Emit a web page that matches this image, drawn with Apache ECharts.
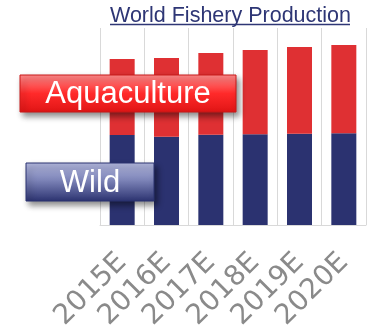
<!DOCTYPE html>
<html><head><meta charset="utf-8">
<script src="https://cdn.jsdelivr.net/npm/echarts@6/dist/echarts.min.js"></script>
<style>html,body{margin:0;padding:0;background:#fff}#c{width:368px;height:330px}</style>
</head><body><div id="c"></div>
<script>
var categories = ['2015E','2016E','2017E','2018E','2019E','2020E'];
var wild = [91.4, 89.6, 91.7, 92.1, 92.7, 93.1];
var aquaculture = [77.1, 79.9, 82.9, 85.6, 88.0, 89.6];
var seriesNames = ['Wild','Aquaculture'];
var titleText = 'World Fishery Production';

var chart = echarts.init(document.getElementById('c'), null, {renderer:'canvas'});
chart.setOption({
  animation:false,
  grid:{left:100,right:2,top:28,bottom:105,containLabel:false,outerBoundsMode:'none'},
  xAxis:{type:'category',data:categories,
    axisLine:{show:true,lineStyle:{color:'#d9d9d9',width:1}},
    axisTick:{show:false},
    splitLine:{show:true,interval:0,lineStyle:{color:'#d9d9d9',width:1}},
    axisLabel:{rotate:45,interval:0,margin:33,fontSize:28,color:'#8a8a8a',fontFamily:'DejaVu Sans'}
  },
  yAxis:{type:'value',min:0,max:200,show:false,splitLine:{show:false}},
  series:[
    {name:seriesNames[0],type:'bar',stack:'t',data:wild,barWidth:25,itemStyle:{color:'#2b3270'}},
    {name:seriesNames[1],type:'bar',stack:'t',data:aquaculture,barWidth:25,itemStyle:{color:'#df3033'}}
  ],
  graphic:[
    {type:'text',z:10,x:110,y:5,style:{text:titleText,fill:'#2e3675',font:'21.5px "Liberation Sans", Arial, sans-serif'}},
    {type:'line',shape:{x1:110,y1:24.5,x2:350,y2:24.5},style:{stroke:'#2e3675',lineWidth:1.5},z:10},
    {type:'rect',shape:{x:20,y:75,width:216,height:37},z:20,
     style:{fill:new echarts.graphic.LinearGradient(0,0,0,1,[{offset:0,color:'#ff8c8c'},{offset:0.5,color:'#ff2a2a'},{offset:1,color:'#e01515'}]),
       stroke:'#c81818',lineWidth:1,shadowBlur:6,shadowOffsetX:3,shadowOffsetY:4,shadowColor:'rgba(0,0,0,0.45)'}},
    {type:'text',z:21,x:128,y:94,style:{text:seriesNames[1],fill:'#fff',font:'31px "Liberation Sans", Arial, sans-serif',textAlign:'center',textVerticalAlign:'middle'}},
    {type:'rect',shape:{x:26,y:163,width:128,height:38},z:20,
     style:{fill:new echarts.graphic.LinearGradient(0,0,0,1,[{offset:0,color:'#b3b8de'},{offset:0.45,color:'#7d84b8'},{offset:1,color:'#2b3270'}]),
       stroke:'#2b3270',lineWidth:1,shadowBlur:6,shadowOffsetX:3,shadowOffsetY:4,shadowColor:'rgba(0,0,0,0.45)'}},
    {type:'text',z:21,x:90,y:183,style:{text:seriesNames[0],fill:'#fff',font:'31px "Liberation Sans", Arial, sans-serif',textAlign:'center',textVerticalAlign:'middle'}}
  ]
});
</script></body></html>
